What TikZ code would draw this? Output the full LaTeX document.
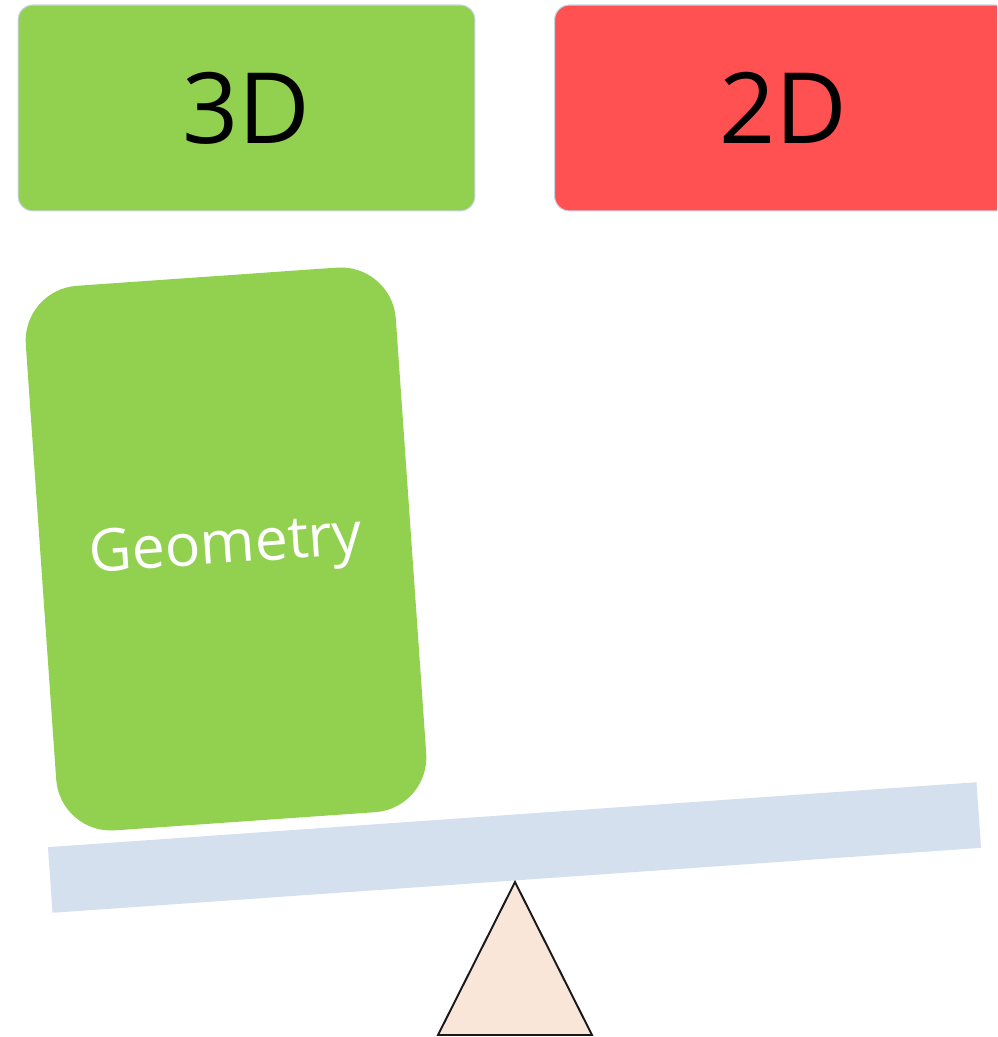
\documentclass[tikz,border=0pt]{standalone}
\usepackage{fontspec}
\setmainfont{Open Sans}
\usepackage{tikz}
\usetikzlibrary{positioning}

\definecolor{dimgreen}{HTML}{92D050}
\definecolor{dimred}{HTML}{FF5151}
\definecolor{edgeblue}{HTML}{C8D4E6}
\definecolor{beamblue}{HTML}{D5E0EE}
\definecolor{pivotfill}{HTML}{FAE5D9}

\begin{document}
\begin{tikzpicture}[
  x=0.02cm, y=0.02cm,
  dimbox/.style={rectangle, rounded corners=0.3cm, draw=edgeblue, line width=0.6pt,
                 minimum width=9.14cm, minimum height=4.12cm, inner sep=0pt,
                 font=\fontsize{56}{64}\selectfont, text=black},
  cardbox/.style={rectangle, rounded corners=1.1cm, fill=dimgreen, rotate=4,
                  minimum width=7.42cm, minimum height=10.92cm, inner sep=0pt,
                  font=\fontsize{33.5}{40}\selectfont, text=white},
  beambox/.style={rectangle, fill=beamblue, rotate=4, inner sep=0pt,
                  minimum width=18.62cm, minimum height=1.316cm},
  pivot/.style={draw=black!90, fill=pivotfill, line width=1.1pt, line join=miter}
]
\useasboundingbox (0,0) rectangle (997,1037);
\clip (0,0) rectangle (997,1037);

% Headers
\node[dimbox, fill=dimgreen] (three) at (246.5, 929) {3D};
\node[dimbox, fill=dimred] (two) at (783, 929) {2D};

% Seesaw beam
\node[beambox] (beam) at (514.5, 189.5) {};

% Card on the left end
\node[cardbox] (geom) at (226, 488) {Geometry};

% Fulcrum
\coordinate (apex) at (515, 155);
\coordinate (baseL) at (438, 2);
\coordinate (baseR) at (592, 2);
\draw[pivot] (apex) -- (baseL) -- (baseR) -- cycle;

\end{tikzpicture}
\end{document}
